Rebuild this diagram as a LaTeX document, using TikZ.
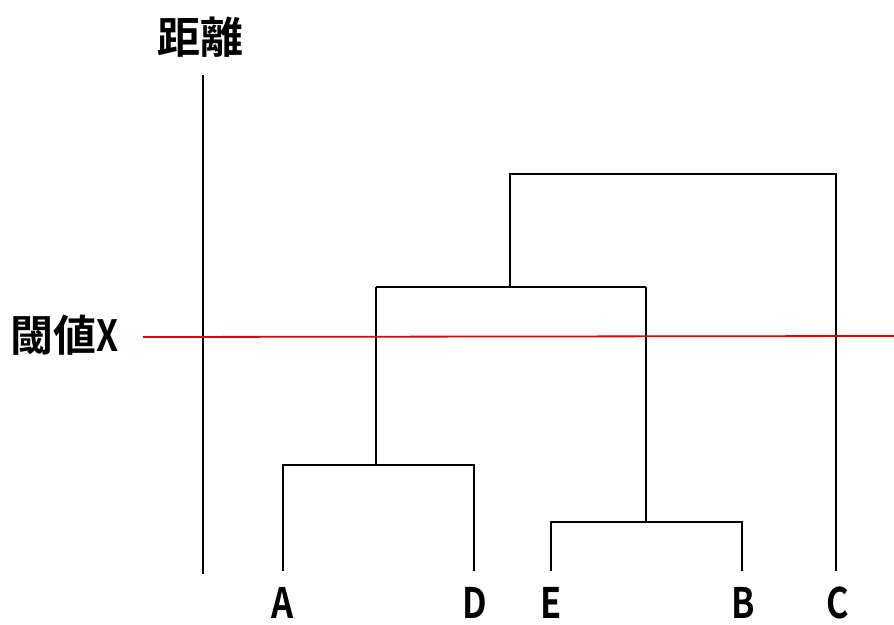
\documentclass[tikz,border=0pt]{standalone}
\usepackage{fontspec}
\setmainfont{Noto Sans CJK JP}[BoldFont={* Bold}]
\newfontfamily\jpbold{Noto Sans CJK JP Bold}
\newcommand{\narrowtxt}[1]{\scalebox{0.82}[1]{#1}}
\begin{document}
\begin{tikzpicture}[x=1pt,y=-1pt,
  dend/.style={line width=2.2pt,black},
  leaflabel/.style={font=\jpbold\fontsize{42}{42}\selectfont,inner sep=0pt,anchor=north},
  bigtxt/.style={font=\jpbold\fontsize{43}{43}\selectfont,inner sep=0pt}]
\useasboundingbox (0,0) rectangle (894,624);
% axis
\coordinate (axtop) at (203,75);
\coordinate (axbot) at (203,574);
\draw[dend] (axtop) -- (axbot);
\node[bigtxt] (title) at (200,37) {距離};
% leaves
\coordinate (A) at (283,571);
\coordinate (D) at (474,571);
\coordinate (E) at (551,571);
\coordinate (B) at (742,571);
\coordinate (C) at (836,571);
\coordinate (AD) at (376,465);
\coordinate (EB) at (646,522);
\coordinate (ADEB) at (510,287);
\coordinate (ALL) at (836,174);
\draw[dend] (A) |- (AD) -| (D);
\draw[dend] (AD) -- (AD |- 0,287);
\draw[dend] (E) |- (EB) -| (B);
\draw[dend] (EB) -- (EB |- 0,287);
\draw[dend] (376,287) -- (646,287);
\draw[dend] (ADEB) -- (ADEB |- 0,174) -- (ALL) -- (C);
% threshold
\coordinate (th1) at (143,337);
\coordinate (th2) at (894,336);
\draw[red!90!black,line width=1.8pt] (th1) -- (th2);
\node[bigtxt,anchor=west] (thx) at (10,335) {閾値\narrowtxt{X}};
% labels
\node[leaflabel] (lA) at (283,587) {\narrowtxt{A}};
\node[leaflabel] (lD) at (475,587) {\narrowtxt{D}};
\node[leaflabel] (lE) at (551,587) {\narrowtxt{E}};
\node[leaflabel] (lB) at (743,587) {\narrowtxt{B}};
\node[leaflabel] (lC) at (838,587) {\narrowtxt{C}};
\end{tikzpicture}
\end{document}
